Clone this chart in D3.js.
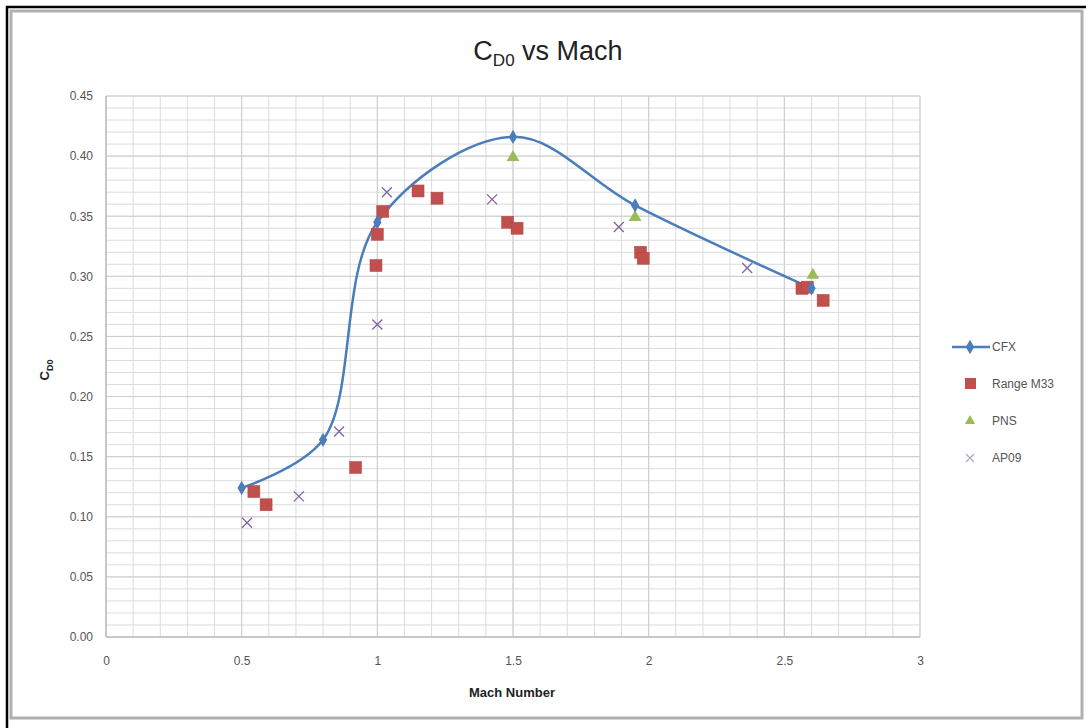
<!DOCTYPE html>
<html><head><meta charset="utf-8">
<script src="https://cdn.jsdelivr.net/npm/d3@7"></script>
<style>
body{margin:0;background:#fff;}
svg{display:block;font-family:"Liberation Sans Narrow","Arial Narrow","Liberation Sans",sans-serif;}
</style></head>
<body><svg id="c" width="1086" height="728"></svg>
<script>
const cfxMach = [0.5, 0.8, 1.0, 1.5, 1.95, 2.6];
const cfxCd0  = [0.124, 0.164, 0.345, 0.416, 0.359, 0.290];
const m33Mach = [0.545, 0.59, 0.92, 0.995, 1.0, 1.02, 1.15, 1.22, 1.48, 1.515, 1.97, 1.98, 2.565, 2.585, 2.643];
const m33Cd0  = [0.121, 0.110, 0.141, 0.309, 0.335, 0.354, 0.371, 0.365, 0.345, 0.340, 0.320, 0.315, 0.290, 0.291, 0.280];
const pnsMach = [1.5, 1.95, 2.605];
const pnsCd0  = [0.399, 0.349, 0.301];
const ap09Mach = [0.52, 0.711, 0.859, 1.0, 1.035, 1.423, 1.89, 2.363];
const ap09Cd0  = [0.095, 0.117, 0.171, 0.26, 0.370, 0.364, 0.341, 0.307];
const xTicks = [0, 0.5, 1, 1.5, 2, 2.5, 3];
const xTickLabels = ["0", "0.5", "1", "1.5", "2", "2.5", "3"];
const yTicks = [0, 0.05, 0.10, 0.15, 0.20, 0.25, 0.30, 0.35, 0.40, 0.45];
const legendNames = ["CFX", "Range M33", "PNS", "AP09"];

const svg = d3.select("#c");
// frame
svg.append("rect").attr("x",11).attr("y",11).attr("width",1071).attr("height",707)
  .attr("fill","#fff").attr("stroke","#b0b0b0").attr("stroke-width",3);
svg.append("path").attr("d","M7,728 V7 H1086").attr("fill","none").attr("stroke","#000").attr("stroke-width",2.5);

const x = d3.scaleLinear().domain([0,3]).range([106,920]);
const y = d3.scaleLinear().domain([0,0.45]).range([637,96]);

const g = svg.append("g");
// minor grid
const minorX = d3.range(0, 3.0001, 0.1);
const minorY = d3.range(0, 0.4501, 0.01);
g.selectAll(".mx").data(minorX).enter().append("line")
  .attr("x1",d=>x(d)).attr("x2",d=>x(d)).attr("y1",y(0)).attr("y2",y(0.45))
  .attr("stroke","#dcdcdc").attr("stroke-width",1);
g.selectAll(".my").data(minorY).enter().append("line")
  .attr("x1",x(0)).attr("x2",x(3)).attr("y1",d=>y(d)).attr("y2",d=>y(d))
  .attr("stroke","#dcdcdc").attr("stroke-width",1);
// major grid
g.selectAll(".Mx").data(xTicks).enter().append("line")
  .attr("x1",d=>x(d)).attr("x2",d=>x(d)).attr("y1",y(0)).attr("y2",y(0.45))
  .attr("stroke","#cdcdcd").attr("stroke-width",1);
g.selectAll(".My").data(yTicks).enter().append("line")
  .attr("x1",x(0)).attr("x2",x(3)).attr("y1",d=>y(d)).attr("y2",d=>y(d))
  .attr("stroke","#cdcdcd").attr("stroke-width",1);
// axes lines
g.append("line").attr("x1",x(0)).attr("x2",x(0)).attr("y1",y(0)).attr("y2",y(0.45)).attr("stroke","#c0c0c0").attr("stroke-width",1.5);
g.append("line").attr("x1",x(0)).attr("x2",x(3)).attr("y1",y(0)).attr("y2",y(0)).attr("stroke","#c0c0c0").attr("stroke-width",1.5);

// axis labels via d3 axes
const xAxis = d3.axisBottom(x).tickValues(xTicks).tickFormat((d,i)=>xTickLabels[i]).tickSize(0).tickPadding(19);
const xa = svg.append("g").attr("transform",`translate(0,${y(0)})`).call(xAxis);
const yAxis = d3.axisLeft(y).tickValues(yTicks).tickFormat(d3.format(".2f")).tickSize(0).tickPadding(13);
const ya = svg.append("g").attr("transform",`translate(${x(0)},0)`).call(yAxis);
[xa,ya].forEach(a=>{a.select(".domain").remove();a.selectAll("text").attr("fill","#555").attr("font-size",12);});

// titles
const title = svg.append("text").attr("x",548).attr("y",60).attr("text-anchor","middle")
  .attr("font-size",27).attr("fill","#222");
title.append("tspan").text("C");
title.append("tspan").text("D0").attr("font-size",17).attr("dy",6);
title.append("tspan").text(" vs Mach").attr("dy",-6);

svg.append("text").attr("x",512).attr("y",697).attr("text-anchor","middle")
  .attr("font-size",13).attr("font-weight","bold").attr("fill","#222").text("Mach Number");
const yl = svg.append("text").attr("transform","translate(49,370) rotate(-90)").attr("text-anchor","middle")
  .attr("font-size",13).attr("font-weight","bold").attr("fill","#222");
yl.append("tspan").text("C");
yl.append("tspan").text("D0").attr("font-size",9).attr("dy",4);

// CFX line
const cfx = cfxMach.map((m,i)=>[m,cfxCd0[i]]);
const line = d3.line().x(d=>x(d[0])).y(d=>y(d[1])).curve(d3.curveCatmullRom.alpha(0.5));
const blue = "#4a7ebb";
svg.append("path").datum(cfx).attr("d",line).attr("fill","none").attr("stroke",blue).attr("stroke-width",2.5);

// Range M33 squares
const red = "#c0504d";
svg.selectAll(".sq").data(m33Mach.map((m,i)=>[m,m33Cd0[i]])).enter().append("rect")
  .attr("x",d=>x(d[0])-6).attr("y",d=>y(d[1])-6).attr("width",12).attr("height",12)
  .attr("fill",red).attr("stroke","#b8423f").attr("stroke-width",0.5);

// AP09 crosses
const purple = "#8064a2";
svg.selectAll(".xx").data(ap09Mach.map((m,i)=>[m,ap09Cd0[i]])).enter().append("path")
  .attr("transform",d=>`translate(${x(d[0])},${y(d[1])})`)
  .attr("d","M-5,-5L5,5M-5,5L5,-5").attr("stroke",purple).attr("stroke-width",1.3).attr("fill","none");

// PNS triangles
const green = "#9bbb59";
const tri = d3.symbol().type(d3.symbolTriangle).size(70);
svg.selectAll(".tr").data(pnsMach.map((m,i)=>[m,pnsCd0[i]])).enter().append("path")
  .attr("transform",d=>`translate(${x(d[0])},${y(d[1])})`).attr("d",tri).attr("fill",green);

// CFX markers (diamonds)
const dia = d3.symbol().type(d3.symbolDiamond).size(60);
svg.selectAll(".dm").data(cfx).enter().append("path")
  .attr("transform",d=>`translate(${x(d[0])},${y(d[1])})`).attr("d",dia).attr("fill",blue);

// legend
const ly = [347, 384, 421, 458];
const leg = svg.append("g");
legendNames.forEach((n,i)=>{
  leg.append("text").attr("x",992).attr("y",ly[i]+4).attr("font-size",12).attr("fill","#555").text(n);
});
leg.append("line").attr("x1",952).attr("x2",990).attr("y1",ly[0]).attr("y2",ly[0]).attr("stroke",blue).attr("stroke-width",2.5);
leg.append("path").attr("transform",`translate(970,${ly[0]})`).attr("d",dia).attr("fill",blue);
leg.append("rect").attr("x",965).attr("y",ly[1]-6).attr("width",11).attr("height",11).attr("fill",red);
leg.append("path").attr("transform",`translate(970,${ly[2]})`).attr("d",d3.symbol().type(d3.symbolTriangle).size(45)).attr("fill",green);
leg.append("path").attr("transform",`translate(970,${ly[3]})`).attr("d","M-4,-4L4,4M-4,4L4,-4").attr("stroke","#b0a6c4").attr("stroke-width",1.2);
</script></body></html>
